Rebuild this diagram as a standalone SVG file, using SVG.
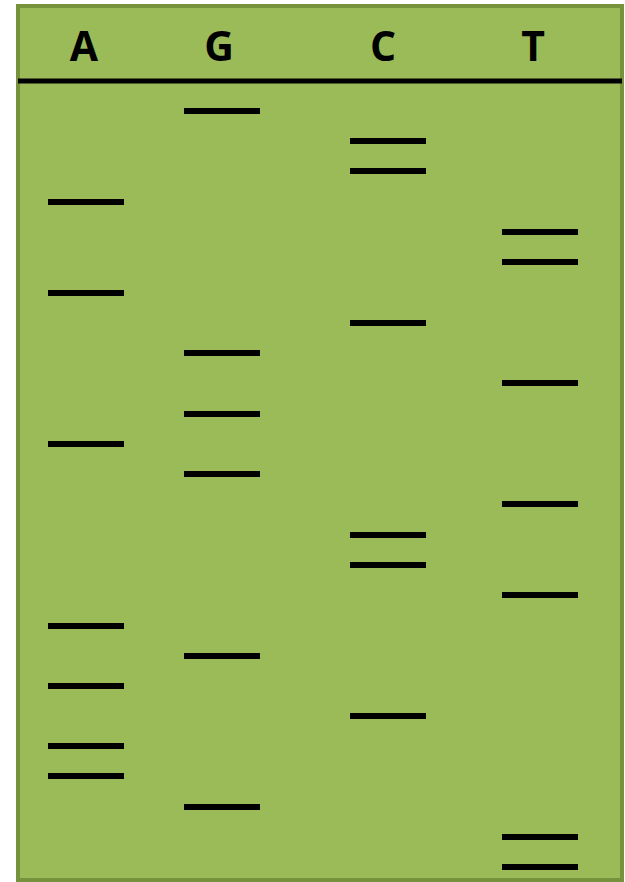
<svg xmlns="http://www.w3.org/2000/svg" width="625" height="882" viewBox="0 0 625 882">
<style>
.lbl{font-family:"Open Sans","Liberation Sans",sans-serif;font-weight:bold;font-size:41px;fill:#000;text-anchor:middle}
.band{stroke:#000;stroke-width:6;fill:none}
</style>
<defs>
<line id="b" x1="0" y1="0" x2="76" y2="0" class="band"/>
</defs>
<rect x="18" y="6" width="604" height="874" fill="#9bbb59" stroke="#76923c" stroke-width="4"/>
<line x1="18" y1="81" x2="622" y2="81" stroke="#000" stroke-width="5"/>
<g id="lane-A">
<text class="lbl" x="84" y="61">A</text>
<use href="#b" x="48" y="202"/><use href="#b" x="48" y="293"/><use href="#b" x="48" y="444"/><use href="#b" x="48" y="626"/><use href="#b" x="48" y="686"/><use href="#b" x="48" y="746"/><use href="#b" x="48" y="776"/>
</g>
<g id="lane-G">
<text class="lbl" x="219" y="61">G</text>
<use href="#b" x="184" y="111"/><use href="#b" x="184" y="353"/><use href="#b" x="184" y="414"/><use href="#b" x="184" y="474"/><use href="#b" x="184" y="656"/><use href="#b" x="184" y="807"/>
</g>
<g id="lane-C">
<text class="lbl" x="383" y="61">C</text>
<use href="#b" x="350" y="141"/><use href="#b" x="350" y="171"/><use href="#b" x="350" y="323"/><use href="#b" x="350" y="535"/><use href="#b" x="350" y="565"/><use href="#b" x="350" y="716"/>
</g>
<g id="lane-T">
<text class="lbl" x="533" y="61">T</text>
<use href="#b" x="502" y="232"/><use href="#b" x="502" y="262"/><use href="#b" x="502" y="383"/><use href="#b" x="502" y="504"/><use href="#b" x="502" y="595"/><use href="#b" x="502" y="837"/><use href="#b" x="502" y="867"/>
</g>
</svg>
